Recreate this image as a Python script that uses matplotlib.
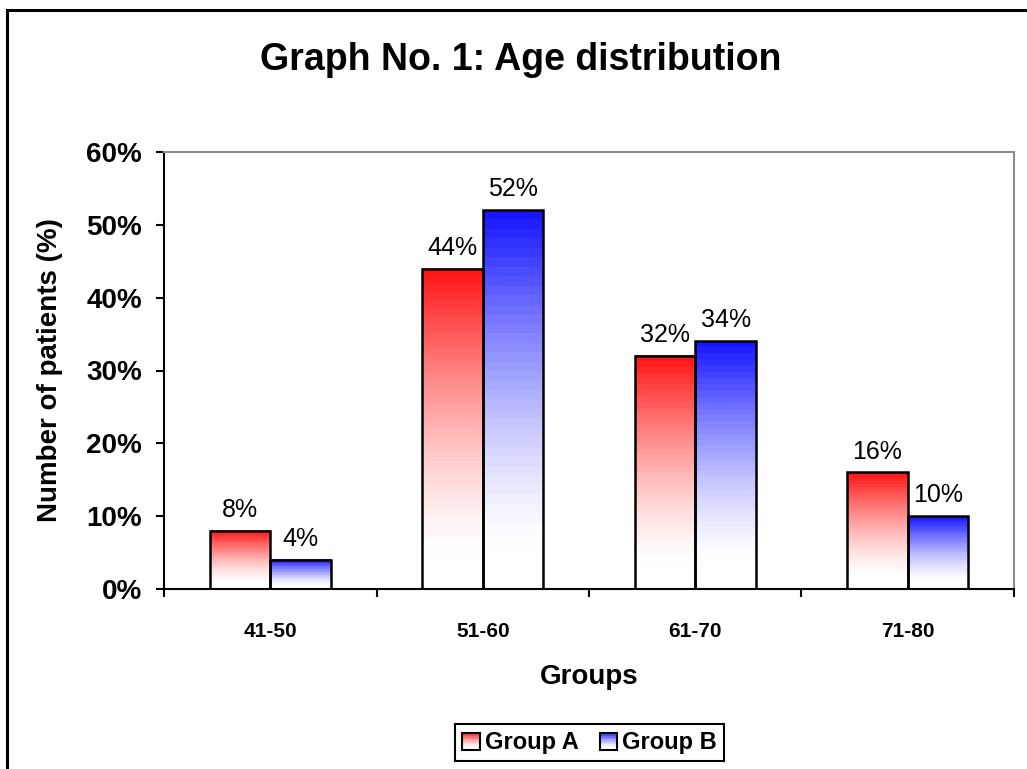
import matplotlib
matplotlib.use("Agg")
import matplotlib.pyplot as plt
import numpy as np
from matplotlib.legend_handler import HandlerBase
from matplotlib.patches import Rectangle
from matplotlib.ticker import FixedLocator, FuncFormatter

plt.rcParams["font.family"] = ["Liberation Sans", "DejaVu Sans"]

groups = ["41-50", "51-60", "61-70", "71-80"]
group_a = [8, 44, 32, 16]
group_b = [4, 52, 34, 10]
series_names = ["Group A", "Group B"]

RED = np.array([255, 22, 22]) / 255
BLUE = np.array([22, 22, 255]) / 255


def shade(base, t):
    """Colour at relative height t (0 = bottom, 1 = top) of a white-to-base fill."""
    f = np.clip((t - 0.1) / 0.9, 0, 1) ** 1.4
    return 1 - (1 - base) * f


def gradient_image(base, n=40):
    t = np.linspace(1, 0, n)
    return np.array([[shade(base, ti)] for ti in t])


class GradientHandler(HandlerBase):
    def __init__(self, base, **kw):
        super().__init__(**kw)
        self.base = base

    def create_artists(self, legend, orig_handle, xdescent, ydescent,
                       width, height, fontsize, trans):
        n = 10
        arts = []
        for i in range(n):
            arts.append(Rectangle((-xdescent, -ydescent + i * height / n), width,
                                  height / n, facecolor=shade(self.base, (i + 0.5) / n),
                                  edgecolor="none", transform=trans))
        arts.append(Rectangle((-xdescent, -ydescent), width, height, facecolor="none",
                              edgecolor="black", lw=1.5, transform=trans))
        return arts


fig = plt.figure(figsize=(10.27, 7.69), dpi=100)
ax = fig.add_axes([164 / 1027, 1 - 589 / 769, 850 / 1027, 437 / 769])

x = np.arange(len(groups))
w = 1 / 3.5
bars_a = ax.bar(x - w / 2, group_a, w, facecolor="none", edgecolor="black", lw=1.8, zorder=3)
bars_b = ax.bar(x + w / 2, group_b, w, facecolor="none", edgecolor="black", lw=1.8, zorder=3)

for bars, base in [(bars_a, RED), (bars_b, BLUE)]:
    img = gradient_image(base)
    for p in bars:
        x0, h = p.get_x(), p.get_height()
        ax.imshow(img, extent=[x0, x0 + p.get_width(), 0, h], aspect="auto",
                  interpolation="nearest", zorder=2)
    for p in bars:
        ax.annotate(f"{p.get_height():.0f}%", (p.get_x() + p.get_width() / 2, p.get_height()),
                    xytext=(0, 10), textcoords="offset points", ha="center", va="baseline",
                    fontsize=18)

ax.set_xlim(-0.5, len(groups) - 0.5)
ax.set_ylim(0, 60)

ax.set_yticks(np.arange(0, 61, 10))
ax.yaxis.set_major_formatter(FuncFormatter(lambda v, _: f"{v:.0f}%"))
ax.tick_params(axis="y", direction="out", length=6, width=1.5, pad=10, labelsize=20)
for lbl in ax.get_yticklabels():
    lbl.set_fontweight("bold")

ax.set_xticks(x)
ax.set_xticklabels(groups, fontsize=15, fontweight="bold")
ax.xaxis.set_minor_locator(FixedLocator(np.arange(-0.5, len(groups), 1)))
ax.tick_params(axis="x", which="major", length=0, pad=24)
ax.tick_params(axis="x", which="minor", direction="out", length=6, width=1.5)

for side in ["left", "bottom"]:
    ax.spines[side].set_linewidth(1.5)
    ax.spines[side].set_color("black")
for side in ["top", "right"]:
    ax.spines[side].set_linewidth(1.5)
    ax.spines[side].set_color("#8c8c8c")

ax.set_ylabel("Number of patients (%)", fontsize=20, fontweight="bold", va="center")
ax.yaxis.set_label_coords(-0.134, 0.5)
ax.set_xlabel("Groups", fontsize=20, fontweight="bold", va="center")
ax.xaxis.set_label_coords(0.5, -0.201)

fig.text(0.507, 0.922, "Graph No. 1: Age distribution", fontsize=27, fontweight="bold",
         ha="center", va="center")

proxy_a, proxy_b = Rectangle((0, 0), 1, 1), Rectangle((0, 0), 1, 1)
leg = fig.legend([proxy_a, proxy_b], series_names, loc="center",
                 bbox_to_anchor=(0.574, 0.034), ncol=2, fancybox=False,
                 edgecolor="black", framealpha=1, borderpad=0.3,
                 handlelength=0.75, handleheight=0.72, handletextpad=0.2,
                 columnspacing=0.9, prop={"size": 17, "weight": "bold"},
                 handler_map={proxy_a: GradientHandler(RED), proxy_b: GradientHandler(BLUE)})
leg.get_frame().set_linewidth(1.5)

# outer chart border, clipped on the right and bottom edges
fig.add_artist(Rectangle((7 / 1027, -0.1), 1.2, 1.1 - 10 / 769, fill=False,
                         edgecolor="black", lw=2.2, transform=fig.transFigure))

fig.savefig("out.png", dpi=100)
